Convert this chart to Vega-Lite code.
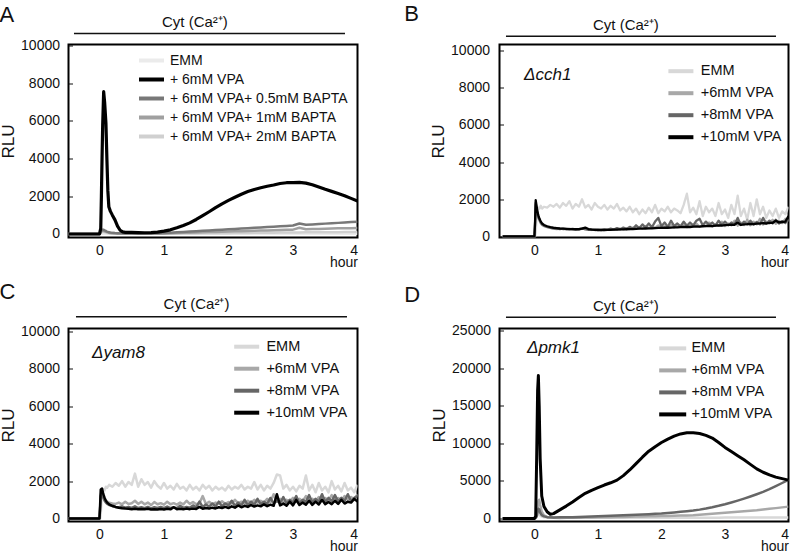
{
"$schema": "https://vega.github.io/schema/vega-lite/v6.json",
"background": "white",
"padding": {"left": -2.5, "top": 1.5, "right": 5, "bottom": 5},
"config": {
  "font": "Liberation Sans",
  "view": {"stroke": "black", "strokeWidth": 2},
  "axis": {"grid": false, "domain": false, "labelOverlap": false, "format": "d", "labelFont": "Liberation Sans", "labelFontSize": 14, "labelColor": "#111", "titleFont": "Liberation Sans", "titleFontWeight": "normal", "titleColor": "#111"},
  "legend": {"labelLimit": 400, "labelFont": "Liberation Sans", "labelColor": "#111", "symbolStrokeWidth": 4, "padding": 0, "title": null},
  "text": {"font": "Liberation Sans", "color": "#111"}
},
"datasets": {
"A": [
{"t":-0.5,"e":0,"v":0,"a":0,"b":0,"c":0},
{"t":0,"e":0,"v":0,"a":0,"b":0,"c":0},
{"t":0.02,"e":10,"v":300,"a":100,"b":80,"c":50},
{"t":0.03,"e":15,"v":2000,"a":180,"b":140,"c":90},
{"t":0.04,"e":15,"v":4000,"a":220,"b":160,"c":100},
{"t":0.05,"e":15,"v":5800,"a":230,"b":170,"c":110},
{"t":0.065,"e":15,"v":7550,"a":220,"b":160,"c":100},
{"t":0.08,"e":15,"v":7000,"a":190,"b":140,"c":90},
{"t":0.1,"e":15,"v":5900,"a":160,"b":120,"c":80},
{"t":0.115,"e":15,"v":4000,"a":130,"b":100,"c":65},
{"t":0.13,"e":15,"v":2300,"a":110,"b":85,"c":55},
{"t":0.145,"e":15,"v":1450,"a":90,"b":70,"c":45},
{"t":0.17,"e":15,"v":1200,"a":75,"b":55,"c":35},
{"t":0.2,"e":15,"v":1000,"a":60,"b":45,"c":30},
{"t":0.24,"e":15,"v":750,"a":50,"b":35,"c":25},
{"t":0.28,"e":15,"v":420,"a":45,"b":30,"c":20},
{"t":0.32,"e":15,"v":200,"a":40,"b":25,"c":20},
{"t":0.36,"e":15,"v":110,"a":35,"b":25,"c":20},
{"t":0.4,"e":15,"v":90,"a":30,"b":20,"c":15},
{"t":0.5,"e":15,"v":85,"a":30,"b":20,"c":15},
{"t":0.6,"e":15,"v":75,"a":30,"b":20,"c":15},
{"t":0.7,"e":15,"v":65,"a":30,"b":20,"c":15},
{"t":0.8,"e":15,"v":70,"a":35,"b":20,"c":15},
{"t":0.9,"e":15,"v":95,"a":40,"b":25,"c":15},
{"t":1.0,"e":15,"v":150,"a":50,"b":30,"c":15},
{"t":1.1,"e":15,"v":220,"a":70,"b":40,"c":18},
{"t":1.2,"e":15,"v":330,"a":90,"b":50,"c":20},
{"t":1.3,"e":15,"v":450,"a":110,"b":60,"c":23},
{"t":1.4,"e":15,"v":590,"a":130,"b":70,"c":26},
{"t":1.5,"e":15,"v":770,"a":150,"b":80,"c":30},
{"t":1.6,"e":15,"v":970,"a":170,"b":90,"c":33},
{"t":1.7,"e":15,"v":1180,"a":190,"b":100,"c":36},
{"t":1.8,"e":15,"v":1400,"a":210,"b":110,"c":40},
{"t":1.9,"e":15,"v":1600,"a":230,"b":120,"c":43},
{"t":2.0,"e":15,"v":1780,"a":250,"b":130,"c":46},
{"t":2.1,"e":15,"v":1950,"a":270,"b":140,"c":50},
{"t":2.2,"e":15,"v":2110,"a":290,"b":150,"c":53},
{"t":2.3,"e":15,"v":2250,"a":310,"b":160,"c":56},
{"t":2.4,"e":15,"v":2360,"a":330,"b":170,"c":60},
{"t":2.5,"e":15,"v":2450,"a":350,"b":180,"c":63},
{"t":2.6,"e":15,"v":2530,"a":370,"b":190,"c":66},
{"t":2.7,"e":15,"v":2600,"a":390,"b":200,"c":70},
{"t":2.8,"e":15,"v":2680,"a":410,"b":210,"c":73},
{"t":2.9,"e":15,"v":2720,"a":430,"b":220,"c":76},
{"t":3.0,"e":15,"v":2730,"a":450,"b":230,"c":80},
{"t":3.1,"e":15,"v":2740,"a":560,"b":330,"c":83},
{"t":3.2,"e":15,"v":2700,"a":490,"b":250,"c":86},
{"t":3.3,"e":15,"v":2610,"a":510,"b":260,"c":90},
{"t":3.4,"e":15,"v":2490,"a":530,"b":270,"c":92},
{"t":3.5,"e":15,"v":2370,"a":550,"b":280,"c":94},
{"t":3.6,"e":15,"v":2260,"a":570,"b":290,"c":96},
{"t":3.7,"e":15,"v":2150,"a":590,"b":300,"c":98},
{"t":3.8,"e":15,"v":2030,"a":610,"b":305,"c":100},
{"t":3.9,"e":15,"v":1890,"a":630,"b":310,"c":100},
{"t":4.0,"e":15,"v":1750,"a":650,"b":320,"c":100}
],
"B": [
{"t":-0.5,"e":0,"a":0,"b":0,"c":0},
{"t":0,"e":0,"a":0,"b":0,"c":0},
{"t":0.01,"e":0,"a":600,"b":700,"c":800},
{"t":0.02,"e":200,"a":1700,"b":1800,"c":1950},
{"t":0.04,"e":1400,"a":1300,"b":1350,"c":1500},
{"t":0.06,"e":1550,"a":1000,"b":1050,"c":1150},
{"t":0.08,"e":1500,"a":850,"b":900,"c":950},
{"t":0.1,"e":1650,"a":700,"b":750,"c":800},
{"t":0.12,"e":1500,"a":620,"b":650,"c":700},
{"t":0.15,"e":1600,"a":560,"b":580,"c":620},
{"t":0.2,"e":1550,"a":500,"b":520,"c":550},
{"t":0.25,"e":1700,"a":460,"b":470,"c":500},
{"t":0.3,"e":1600,"a":420,"b":440,"c":470},
{"t":0.35,"e":1750,"a":400,"b":420,"c":450},
{"t":0.4,"e":1550,"a":430,"b":400,"c":430},
{"t":0.45,"e":1800,"a":390,"b":420,"c":420},
{"t":0.5,"e":1650,"a":410,"b":390,"c":410},
{"t":0.55,"e":1900,"a":380,"b":410,"c":400},
{"t":0.6,"e":1500,"a":420,"b":380,"c":400},
{"t":0.65,"e":1750,"a":370,"b":400,"c":390},
{"t":0.7,"e":1600,"a":400,"b":370,"c":400},
{"t":0.75,"e":2000,"a":450,"b":420,"c":420},
{"t":0.8,"e":1550,"a":380,"b":390,"c":480},
{"t":0.85,"e":1700,"a":400,"b":360,"c":400},
{"t":0.9,"e":1450,"a":350,"b":380,"c":370},
{"t":0.95,"e":1800,"a":380,"b":350,"c":360},
{"t":1.0,"e":1600,"a":340,"b":370,"c":350},
{"t":1.05,"e":1500,"a":370,"b":340,"c":360},
{"t":1.1,"e":1700,"a":350,"b":380,"c":350},
{"t":1.15,"e":1450,"a":380,"b":360,"c":360},
{"t":1.2,"e":1650,"a":360,"b":420,"c":360},
{"t":1.25,"e":1500,"a":400,"b":370,"c":370},
{"t":1.3,"e":1750,"a":370,"b":450,"c":370},
{"t":1.35,"e":1400,"a":420,"b":380,"c":380},
{"t":1.4,"e":1550,"a":380,"b":480,"c":380},
{"t":1.45,"e":1350,"a":450,"b":400,"c":390},
{"t":1.5,"e":1600,"a":400,"b":520,"c":400},
{"t":1.55,"e":1300,"a":480,"b":420,"c":400},
{"t":1.6,"e":1500,"a":420,"b":600,"c":410},
{"t":1.65,"e":1200,"a":500,"b":450,"c":420},
{"t":1.7,"e":1450,"a":440,"b":650,"c":420},
{"t":1.75,"e":1250,"a":560,"b":480,"c":430},
{"t":1.8,"e":1550,"a":450,"b":700,"c":440},
{"t":1.85,"e":1300,"a":520,"b":500,"c":440},
{"t":1.9,"e":1700,"a":480,"b":800,"c":450},
{"t":1.95,"e":1250,"a":600,"b":1000,"c":460},
{"t":2.0,"e":1500,"a":470,"b":550,"c":460},
{"t":2.05,"e":1350,"a":550,"b":750,"c":470},
{"t":2.1,"e":1600,"a":500,"b":520,"c":470},
{"t":2.15,"e":1300,"a":620,"b":850,"c":480},
{"t":2.2,"e":1500,"a":480,"b":560,"c":490},
{"t":2.25,"e":1400,"a":580,"b":700,"c":490},
{"t":2.3,"e":1250,"a":520,"b":540,"c":500},
{"t":2.35,"e":1700,"a":650,"b":800,"c":510},
{"t":2.4,"e":2300,"a":500,"b":580,"c":520},
{"t":2.45,"e":1300,"a":600,"b":750,"c":510},
{"t":2.5,"e":1550,"a":540,"b":600,"c":530},
{"t":2.55,"e":1200,"a":700,"b":850,"c":540},
{"t":2.6,"e":1900,"a":520,"b":950,"c":530},
{"t":2.65,"e":1100,"a":620,"b":600,"c":550},
{"t":2.7,"e":1600,"a":560,"b":800,"c":560},
{"t":2.75,"e":1300,"a":750,"b":620,"c":570},
{"t":2.8,"e":1500,"a":540,"b":750,"c":560},
{"t":2.85,"e":1100,"a":650,"b":580,"c":580},
{"t":2.9,"e":1800,"a":580,"b":850,"c":600},
{"t":2.95,"e":1200,"a":800,"b":620,"c":590},
{"t":3.0,"e":1450,"a":560,"b":800,"c":610},
{"t":3.05,"e":1000,"a":700,"b":600,"c":620},
{"t":3.1,"e":1700,"a":600,"b":750,"c":640},
{"t":3.15,"e":1200,"a":850,"b":650,"c":630},
{"t":3.2,"e":2200,"a":580,"b":1000,"c":750},
{"t":3.25,"e":1100,"a":750,"b":620,"c":620},
{"t":3.3,"e":1500,"a":620,"b":800,"c":650},
{"t":3.35,"e":900,"a":900,"b":650,"c":660},
{"t":3.4,"e":1800,"a":600,"b":850,"c":680},
{"t":3.45,"e":1100,"a":800,"b":640,"c":670},
{"t":3.5,"e":2000,"a":650,"b":780,"c":690},
{"t":3.55,"e":1200,"a":950,"b":660,"c":700},
{"t":3.6,"e":1600,"a":640,"b":1000,"c":720},
{"t":3.65,"e":1000,"a":800,"b":680,"c":710},
{"t":3.7,"e":1400,"a":700,"b":850,"c":730},
{"t":3.75,"e":1100,"a":900,"b":700,"c":740},
{"t":3.8,"e":1500,"a":680,"b":900,"c":850},
{"t":3.85,"e":1000,"a":850,"b":700,"c":760},
{"t":3.9,"e":1350,"a":720,"b":820,"c":780},
{"t":3.95,"e":1200,"a":950,"b":720,"c":800},
{"t":4.0,"e":1600,"a":800,"b":950,"c":1100}
],
"C": [
{"t":-0.5,"e":0,"a":0,"b":0,"c":0},
{"t":0,"e":0,"a":0,"b":0,"c":0},
{"t":0.01,"e":0,"a":500,"b":500,"c":700},
{"t":0.02,"e":300,"a":1300,"b":1200,"c":1550},
{"t":0.04,"e":1400,"a":1400,"b":1300,"c":1600},
{"t":0.06,"e":1550,"a":1200,"b":1100,"c":1300},
{"t":0.08,"e":1500,"a":1050,"b":950,"c":1100},
{"t":0.1,"e":1700,"a":950,"b":850,"c":950},
{"t":0.12,"e":1650,"a":900,"b":780,"c":850},
{"t":0.15,"e":1800,"a":850,"b":720,"c":760},
{"t":0.2,"e":1700,"a":800,"b":660,"c":680},
{"t":0.25,"e":1900,"a":780,"b":620,"c":620},
{"t":0.3,"e":1750,"a":850,"b":600,"c":580},
{"t":0.35,"e":2000,"a":760,"b":640,"c":550},
{"t":0.4,"e":1700,"a":900,"b":580,"c":530},
{"t":0.45,"e":1950,"a":780,"b":620,"c":520},
{"t":0.5,"e":1800,"a":820,"b":570,"c":500},
{"t":0.55,"e":2400,"a":950,"b":650,"c":520},
{"t":0.6,"e":1700,"a":780,"b":560,"c":490},
{"t":0.65,"e":2100,"a":900,"b":600,"c":510},
{"t":0.7,"e":1800,"a":760,"b":550,"c":490},
{"t":0.75,"e":1950,"a":850,"b":620,"c":520},
{"t":0.8,"e":1650,"a":720,"b":540,"c":480},
{"t":0.85,"e":2000,"a":880,"b":600,"c":500},
{"t":0.9,"e":1750,"a":760,"b":560,"c":480},
{"t":0.95,"e":1600,"a":820,"b":620,"c":510},
{"t":1.0,"e":1900,"a":740,"b":550,"c":480},
{"t":1.05,"e":1600,"a":900,"b":640,"c":520},
{"t":1.1,"e":1750,"a":760,"b":560,"c":490},
{"t":1.15,"e":1550,"a":820,"b":600,"c":600},
{"t":1.2,"e":1850,"a":740,"b":550,"c":500},
{"t":1.25,"e":1600,"a":850,"b":680,"c":520},
{"t":1.3,"e":1700,"a":760,"b":570,"c":490},
{"t":1.35,"e":1500,"a":950,"b":620,"c":530},
{"t":1.4,"e":1800,"a":780,"b":580,"c":500},
{"t":1.45,"e":1550,"a":880,"b":700,"c":540},
{"t":1.5,"e":1700,"a":760,"b":600,"c":510},
{"t":1.55,"e":1500,"a":820,"b":900,"c":620},
{"t":1.6,"e":1800,"a":1200,"b":620,"c":520},
{"t":1.65,"e":1600,"a":780,"b":750,"c":560},
{"t":1.7,"e":1750,"a":900,"b":640,"c":530},
{"t":1.75,"e":1500,"a":760,"b":800,"c":580},
{"t":1.8,"e":1700,"a":850,"b":650,"c":540},
{"t":1.85,"e":1550,"a":800,"b":900,"c":600},
{"t":1.9,"e":1650,"a":920,"b":660,"c":560},
{"t":1.95,"e":1500,"a":780,"b":800,"c":620},
{"t":2.0,"e":1750,"a":880,"b":700,"c":560},
{"t":2.05,"e":1550,"a":800,"b":950,"c":650},
{"t":2.1,"e":1700,"a":1000,"b":680,"c":580},
{"t":2.15,"e":1600,"a":820,"b":850,"c":700},
{"t":2.2,"e":1800,"a":900,"b":700,"c":600},
{"t":2.25,"e":1550,"a":800,"b":1000,"c":680},
{"t":2.3,"e":1700,"a":950,"b":720,"c":620},
{"t":2.35,"e":1600,"a":830,"b":900,"c":720},
{"t":2.4,"e":1950,"a":1000,"b":740,"c":640},
{"t":2.45,"e":1550,"a":850,"b":1050,"c":700},
{"t":2.5,"e":1800,"a":950,"b":760,"c":650},
{"t":2.55,"e":1500,"a":850,"b":900,"c":760},
{"t":2.6,"e":1750,"a":1050,"b":780,"c":660},
{"t":2.65,"e":1600,"a":880,"b":1100,"c":740},
{"t":2.7,"e":1900,"a":1300,"b":800,"c":680},
{"t":2.75,"e":2350,"a":900,"b":950,"c":1300},
{"t":2.8,"e":2300,"a":1050,"b":820,"c":700},
{"t":2.85,"e":1600,"a":880,"b":1150,"c":800},
{"t":2.9,"e":1800,"a":1000,"b":800,"c":680},
{"t":2.95,"e":1500,"a":900,"b":1000,"c":900},
{"t":3.0,"e":1700,"a":1100,"b":850,"c":700},
{"t":3.05,"e":1450,"a":900,"b":1200,"c":1000},
{"t":3.1,"e":1750,"a":1050,"b":820,"c":720},
{"t":3.15,"e":1600,"a":920,"b":1000,"c":850},
{"t":3.2,"e":2300,"a":1200,"b":880,"c":740},
{"t":3.25,"e":1500,"a":950,"b":1250,"c":950},
{"t":3.3,"e":1800,"a":1050,"b":850,"c":730},
{"t":3.35,"e":1400,"a":920,"b":1050,"c":900},
{"t":3.4,"e":1900,"a":1150,"b":900,"c":750},
{"t":3.45,"e":1500,"a":950,"b":1300,"c":1000},
{"t":3.5,"e":1700,"a":1100,"b":880,"c":760},
{"t":3.55,"e":1400,"a":950,"b":1100,"c":880},
{"t":3.6,"e":2000,"a":1250,"b":920,"c":770},
{"t":3.65,"e":1550,"a":980,"b":1250,"c":950},
{"t":3.7,"e":1750,"a":1100,"b":900,"c":780},
{"t":3.75,"e":1450,"a":950,"b":1100,"c":1000},
{"t":3.8,"e":1900,"a":1200,"b":950,"c":800},
{"t":3.85,"e":1500,"a":1000,"b":1300,"c":900},
{"t":3.9,"e":1650,"a":1150,"b":920,"c":850},
{"t":3.95,"e":1400,"a":1000,"b":1100,"c":1050},
{"t":4.0,"e":1800,"a":1300,"b":1200,"c":900}
],
"D": [
{"t":-0.5,"e":0,"a":0,"b":0,"c":0},
{"t":0,"e":0,"a":0,"b":0,"c":0},
{"t":0.02,"e":50,"a":100,"b":100,"c":300},
{"t":0.035,"e":200,"a":500,"b":300,"c":8000},
{"t":0.05,"e":500,"a":1500,"b":900,"c":17000},
{"t":0.062,"e":700,"a":2300,"b":1300,"c":19000},
{"t":0.075,"e":600,"a":2500,"b":1200,"c":15000},
{"t":0.09,"e":400,"a":1800,"b":800,"c":8000},
{"t":0.115,"e":250,"a":900,"b":450,"c":3000},
{"t":0.15,"e":150,"a":400,"b":280,"c":1600},
{"t":0.2,"e":120,"a":200,"b":180,"c":900},
{"t":0.25,"e":100,"a":120,"b":150,"c":560},
{"t":0.3,"e":100,"a":90,"b":140,"c":650},
{"t":0.4,"e":100,"a":80,"b":150,"c":1150},
{"t":0.5,"e":100,"a":90,"b":160,"c":1650},
{"t":0.6,"e":100,"a":100,"b":180,"c":2200},
{"t":0.7,"e":100,"a":110,"b":200,"c":2800},
{"t":0.8,"e":100,"a":120,"b":230,"c":3350},
{"t":0.9,"e":100,"a":135,"b":260,"c":3750},
{"t":1.0,"e":100,"a":150,"b":300,"c":4100},
{"t":1.1,"e":100,"a":165,"b":330,"c":4450},
{"t":1.2,"e":100,"a":180,"b":360,"c":4750},
{"t":1.3,"e":100,"a":195,"b":390,"c":5100},
{"t":1.4,"e":100,"a":210,"b":420,"c":5700},
{"t":1.5,"e":100,"a":230,"b":460,"c":6450},
{"t":1.6,"e":100,"a":250,"b":500,"c":7300},
{"t":1.7,"e":100,"a":270,"b":540,"c":8150},
{"t":1.8,"e":100,"a":290,"b":580,"c":8950},
{"t":1.9,"e":100,"a":305,"b":620,"c":9550},
{"t":2.0,"e":100,"a":320,"b":670,"c":10100},
{"t":2.1,"e":100,"a":340,"b":740,"c":10550},
{"t":2.2,"e":100,"a":360,"b":810,"c":10950},
{"t":2.3,"e":100,"a":385,"b":890,"c":11250},
{"t":2.4,"e":110,"a":410,"b":970,"c":11400},
{"t":2.5,"e":110,"a":440,"b":1060,"c":11400},
{"t":2.6,"e":110,"a":500,"b":1180,"c":11300},
{"t":2.7,"e":110,"a":560,"b":1330,"c":11050},
{"t":2.8,"e":110,"a":630,"b":1500,"c":10700},
{"t":2.9,"e":110,"a":700,"b":1690,"c":10100},
{"t":3.0,"e":120,"a":760,"b":1900,"c":9450},
{"t":3.1,"e":120,"a":830,"b":2130,"c":8900},
{"t":3.2,"e":120,"a":900,"b":2380,"c":8350},
{"t":3.3,"e":120,"a":970,"b":2650,"c":7800},
{"t":3.4,"e":120,"a":1040,"b":2930,"c":7200},
{"t":3.5,"e":120,"a":1110,"b":3230,"c":6600},
{"t":3.6,"e":130,"a":1200,"b":3550,"c":6150},
{"t":3.7,"e":130,"a":1290,"b":3900,"c":5800},
{"t":3.8,"e":130,"a":1380,"b":4300,"c":5500},
{"t":3.9,"e":130,"a":1480,"b":4720,"c":5300},
{"t":4.0,"e":130,"a":1580,"b":5150,"c":5100}
]
},
"columns": 2,
"spacing": {"row": 91, "column": 142},
"bounds": "flush",
"resolve": {"scale": {"color": "independent", "x": "independent", "y": "independent"}, "legend": {"color": "independent"}},
"concat": [
{
  "width": 289, "height": 193,
  "layer": [
    {
      "data": {"name": "A"},
      "transform": [{"fold": ["e", "c", "b", "a", "v"], "as": ["s", "y"]}],
      "mark": {"type": "line", "clip": true, "strokeJoin": "round"},
      "encoding": {
        "x": {"field": "t", "type": "quantitative", "scale": {"domain": [-0.48, 4], "nice": false, "zero": false},
              "axis": {"values": [0, 1, 2, 3, 4], "tickCount": 20, "format": "d", "labelOverlap": false, "title": "hour", "titleAnchor": "end", "titleFontSize": 14, "titlePadding": -2, "labelPadding": 6, "ticks": false}},
        "y": {"field": "y", "type": "quantitative", "scale": {"domain": [-186, 10053], "nice": false, "zero": false},
              "axis": {"values": [0, 2000, 4000, 6000, 8000, 10000], "tickCount": 20, "format": "d", "labelOverlap": false, "title": "RLU", "titleFontSize": 17, "titlePadding": 3, "ticks": true, "tickSize": -4, "tickColor": "#111", "labelPadding": 13}},
        "color": {"field": "s", "type": "nominal",
                  "scale": {"domain": ["e", "v", "a", "b", "c"], "range": ["#ebebeb", "#000000", "#787878", "#a0a0a0", "#d0d0d0"]},
                  "legend": {"orient": "none", "legendX": 72.5, "legendY": 5.5, "symbolType": "M-1.47,0H1.47", "symbolSize": 289, "labelFontSize": 14, "labelOffset": 8, "rowPadding": 0,
                             "labelExpr": "{'e':'EMM','v':'+ 6mM VPA','a':'+ 6mM VPA+ 0.5mM BAPTA','b':'+ 6mM VPA+ 1mM BAPTA','c':'+ 6mM VPA+ 2mM BAPTA'}[datum.value]"}},
        "strokeWidth": {"condition": {"test": "datum.s === 'v'", "value": 3.2}, "value": 2.5}
      }
    },
    {"data": {"values": [{}]}, "mark": {"type": "text", "text": "A", "fontSize": 22, "align": "left", "baseline": "alphabetic", "clip": false},
     "encoding": {"x": {"datum": -1.55}, "y": {"datum": 11273}}},
    {"data": {"values": [{}]}, "mark": {"type": "text", "text": "Cyt (Ca²⁺)", "fontSize": 15, "align": "center", "baseline": "alphabetic", "clip": false},
     "encoding": {"x": {"datum": 1.48}, "y": {"datum": 10955}}},
    {"data": {"values": [{}]}, "mark": {"type": "rule", "color": "#111", "strokeWidth": 1.5, "clip": false},
     "encoding": {"x": {"datum": -0.395}, "x2": {"datum": 3.806}, "y": {"datum": 10637}}}
  ]
},
{
  "width": 289, "height": 193,
  "layer": [
    {
      "data": {"name": "B"},
      "transform": [{"fold": ["e", "a", "b", "c"], "as": ["s", "y"]}],
      "mark": {"type": "line", "clip": true, "strokeJoin": "round"},
      "encoding": {
        "x": {"field": "t", "type": "quantitative", "scale": {"domain": [-0.55, 4], "nice": false, "zero": false},
              "axis": {"values": [0, 1, 2, 3, 4], "tickCount": 20, "format": "d", "labelOverlap": false, "title": "hour", "titleAnchor": "end", "titleFontSize": 14, "titlePadding": -2, "labelPadding": 6, "ticks": false}},
        "y": {"field": "y", "type": "quantitative", "scale": {"domain": [-54, 10323], "nice": false, "zero": false},
              "axis": {"values": [0, 2000, 4000, 6000, 8000, 10000], "tickCount": 20, "format": "d", "labelOverlap": false, "title": "RLU", "titleFontSize": 17, "titlePadding": 3, "ticks": true, "tickSize": -4, "tickColor": "#111", "labelPadding": 14}},
        "color": {"field": "s", "type": "nominal",
                  "scale": {"domain": ["e", "a", "b", "c"], "range": ["#d8d8d8", "#a8a8a8", "#666666", "#000000"]},
                  "legend": {"orient": "none", "legendX": 167.9, "legendY": 13.2, "symbolType": "M-1.126,0H1.126", "symbolSize": 493, "labelFontSize": 14.5, "labelOffset": 6.4, "rowPadding": 0,
                             "labelExpr": "{'e':'EMM','a':'+6mM VPA','b':'+8mM VPA','c':'+10mM VPA'}[datum.value]"}},
        "strokeWidth": {"value": 2.3}
      }
    },
    {"data": {"values": [{}]}, "mark": {"type": "text", "text": "B", "fontSize": 22, "align": "left", "baseline": "alphabetic", "clip": false},
     "encoding": {"x": {"datum": -2.05}, "y": {"datum": 11560}}},
    {"data": {"values": [{}]}, "mark": {"type": "text", "text": "Cyt (Ca²⁺)", "fontSize": 15, "align": "center", "baseline": "alphabetic", "clip": false},
     "encoding": {"x": {"datum": 1.44}, "y": {"datum": 11076}}},
    {"data": {"values": [{}]}, "mark": {"type": "rule", "color": "#111", "strokeWidth": 1.5, "clip": false},
     "encoding": {"x": {"datum": -0.448}, "x2": {"datum": 3.803}, "y": {"datum": 10769}}},
    {"data": {"values": [{}]}, "mark": {"type": "text", "text": "Δcch1", "fontSize": 17, "fontStyle": "italic", "align": "left", "baseline": "alphabetic", "clip": false},
     "encoding": {"x": {"datum": -0.164}, "y": {"datum": 8441}}}
  ]
},
{
  "width": 289, "height": 193,
  "layer": [
    {
      "data": {"name": "C"},
      "transform": [{"fold": ["e", "a", "b", "c"], "as": ["s", "y"]}],
      "mark": {"type": "line", "clip": true, "strokeJoin": "round"},
      "encoding": {
        "x": {"field": "t", "type": "quantitative", "scale": {"domain": [-0.48, 4], "nice": false, "zero": false},
              "axis": {"values": [0, 1, 2, 3, 4], "tickCount": 20, "format": "d", "labelOverlap": false, "title": "hour", "titleAnchor": "end", "titleFontSize": 14, "titlePadding": -2, "labelPadding": 6, "ticks": false}},
        "y": {"field": "y", "type": "quantitative", "scale": {"domain": [-160, 10160], "nice": false, "zero": false},
              "axis": {"values": [0, 2000, 4000, 6000, 8000, 10000], "tickCount": 20, "format": "d", "labelOverlap": false, "title": "RLU", "titleFontSize": 17, "titlePadding": 3, "ticks": true, "tickSize": -4, "tickColor": "#111", "labelPadding": 13}},
        "color": {"field": "s", "type": "nominal",
                  "scale": {"domain": ["e", "a", "b", "c"], "range": ["#d8d8d8", "#a8a8a8", "#666666", "#000000"]},
                  "legend": {"orient": "none", "legendX": 164.2, "legendY": 4.2, "symbolType": "M-1.06,0H1.06", "symbolSize": 557, "labelFontSize": 14.5, "labelOffset": 5.7, "rowPadding": 0,
                             "labelExpr": "{'e':'EMM','a':'+6mM VPA','b':'+8mM VPA','c':'+10mM VPA'}[datum.value]"}},
        "strokeWidth": {"value": 2.5}
      }
    },
    {"data": {"values": [{}]}, "mark": {"type": "text", "text": "C", "fontSize": 22, "align": "left", "baseline": "alphabetic", "clip": false},
     "encoding": {"x": {"datum": -1.55}, "y": {"datum": 11764}}},
    {"data": {"values": [{}]}, "mark": {"type": "text", "text": "Cyt (Ca²⁺)", "fontSize": 15, "align": "center", "baseline": "alphabetic", "clip": false},
     "encoding": {"x": {"datum": 1.504}, "y": {"datum": 11176}}},
    {"data": {"values": [{}]}, "mark": {"type": "rule", "color": "#111", "strokeWidth": 1.5, "clip": false},
     "encoding": {"x": {"datum": -0.364}, "x2": {"datum": 3.837}, "y": {"datum": 10786}}},
    {"data": {"values": [{}]}, "mark": {"type": "text", "text": "Δyam8", "fontSize": 17, "fontStyle": "italic", "align": "left", "baseline": "alphabetic", "clip": false},
     "encoding": {"x": {"datum": -0.116}, "y": {"datum": 8609}}}
  ]
},
{
  "width": 289, "height": 193,
  "layer": [
    {
      "data": {"name": "D"},
      "transform": [{"fold": ["e", "a", "b", "c"], "as": ["s", "y"]}],
      "mark": {"type": "line", "clip": true, "strokeJoin": "round"},
      "encoding": {
        "x": {"field": "t", "type": "quantitative", "scale": {"domain": [-0.55, 4], "nice": false, "zero": false},
              "axis": {"values": [0, 1, 2, 3, 4], "tickCount": 20, "format": "d", "labelOverlap": false, "title": "hour", "titleAnchor": "end", "titleFontSize": 14, "titlePadding": -2, "labelPadding": 6, "ticks": false}},
        "y": {"field": "y", "type": "quantitative", "scale": {"domain": [-399, 25266], "nice": false, "zero": false},
              "axis": {"values": [0, 5000, 10000, 15000, 20000, 25000], "tickCount": 20, "format": "d", "labelOverlap": false, "title": "RLU", "titleFontSize": 17, "titlePadding": 3, "ticks": true, "tickSize": -4, "tickColor": "#111", "labelPadding": 13}},
        "color": {"field": "s", "type": "nominal",
                  "scale": {"domain": ["e", "a", "b", "c"], "range": ["#d8d8d8", "#a8a8a8", "#666666", "#000000"]},
                  "legend": {"orient": "none", "legendX": 159.7, "legendY": 6.4, "symbolType": "M-1.195,0H1.195", "symbolSize": 511, "labelFontSize": 14.5, "labelOffset": 5.2, "rowPadding": 0,
                             "labelExpr": "{'e':'EMM','a':'+6mM VPA','b':'+8mM VPA','c':'+10mM VPA'}[datum.value]"}},
        "strokeWidth": {"condition": {"test": "datum.s === 'c'", "value": 3}, "value": 2.5}
      }
    },
    {"data": {"values": [{}]}, "mark": {"type": "text", "text": "D", "fontSize": 22, "align": "left", "baseline": "alphabetic", "clip": false},
     "encoding": {"x": {"datum": -2.05}, "y": {"datum": 28856}}},
    {"data": {"values": [{}]}, "mark": {"type": "text", "text": "Cyt (Ca²⁺)", "fontSize": 15, "align": "center", "baseline": "alphabetic", "clip": false},
     "encoding": {"x": {"datum": 1.44}, "y": {"datum": 27527}}},
    {"data": {"values": [{}]}, "mark": {"type": "rule", "color": "#111", "strokeWidth": 1.5, "clip": false},
     "encoding": {"x": {"datum": -0.448}, "x2": {"datum": 3.803}, "y": {"datum": 26769}}},
    {"data": {"values": [{}]}, "mark": {"type": "text", "text": "Δpmk1", "fontSize": 17, "fontStyle": "italic", "align": "left", "baseline": "alphabetic", "clip": false},
     "encoding": {"x": {"datum": -0.117}, "y": {"datum": 22074}}}
  ]
}
]
}
